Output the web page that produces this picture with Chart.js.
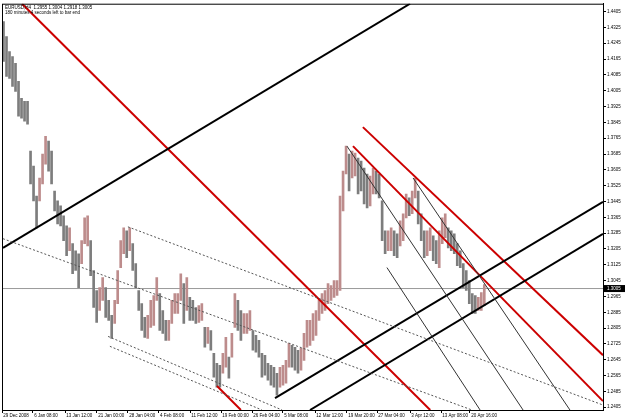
<!DOCTYPE html>
<html lang="en">
<head>
  <meta charset="UTF-8">
  <title>EURUSD H4</title>
  <script src="https://cdn.jsdelivr.net/npm/chart.js"></script>
  <style>
    html, body { margin: 0; padding: 0; background: #fff; }
    canvas { display: block; }
  </style>
</head>
<body>
  <canvas id="chart" width="625" height="420"></canvas>

  <script>
    // H4 bars, one sample every ~3 bars (x = sample index)
    const highs = [
      1.4354, 1.4279, 1.4203, 1.4178, 1.4143, 1.4052, 1.3967, 1.3952, 1.3952, 1.3700,
      1.3624, 1.3473, 1.3564, 1.3685, 1.3775, 1.3750, 1.3700, 1.3498, 1.3448, 1.3423,
      1.3373, 1.3322, 1.3312, 1.3232, 1.3196, 1.3181, 1.3247, 1.3362, 1.3373, 1.3247,
      1.3096, 1.2995, 1.3010, 1.3060, 1.3010, 1.2945, 1.2869, 1.2945, 1.3096, 1.3247,
      1.3312, 1.3297, 1.3312, 1.3232, 1.3131, 1.2995, 1.2929, 1.2859, 1.2869, 1.2945,
      1.2970, 1.3060, 1.2980, 1.2894, 1.2844, 1.2844, 1.2945, 1.2980, 1.2980, 1.3080,
      1.3030, 1.3060, 1.2960, 1.2945, 1.2909, 1.2919, 1.2929, 1.2809, 1.2809, 1.2793,
      1.2678, 1.2627, 1.2617, 1.2678, 1.2758, 1.2658, 1.2778, 1.2980, 1.2945, 1.2894,
      1.2879, 1.2879, 1.2894, 1.2793, 1.2768, 1.2743, 1.2678, 1.2668, 1.2627, 1.2617,
      1.2607, 1.2577, 1.2607, 1.2617, 1.2642, 1.2728, 1.2718, 1.2708, 1.2693, 1.2703,
      1.2778, 1.2844, 1.2844, 1.2879, 1.2894, 1.2945, 1.2980, 1.2995, 1.3030, 1.3020,
      1.3045, 1.3045, 1.3473, 1.3599, 1.3725, 1.3685, 1.3700, 1.3690, 1.3665, 1.3649,
      1.3614, 1.3584, 1.3574, 1.3614, 1.3599, 1.3584, 1.3448, 1.3297, 1.3297, 1.3312,
      1.3297, 1.3282, 1.3347, 1.3383, 1.3483, 1.3463, 1.3498, 1.3564, 1.3498, 1.3383,
      1.3297, 1.3297, 1.3312, 1.3272, 1.3247, 1.3297, 1.3362, 1.3383, 1.3312, 1.3297,
      1.3282, 1.3232, 1.3196, 1.3131, 1.3096, 1.3045, 1.2980, 1.2970, 1.2960, 1.2985,
      1.3025
    ];
    const lows = [
      1.4153, 1.4077, 1.4067, 1.4027, 1.4002, 1.3876, 1.3866, 1.3851, 1.3836, 1.3534,
      1.3448, 1.3312, 1.3448, 1.3534, 1.3634, 1.3599, 1.3534, 1.3398, 1.3332, 1.3322,
      1.3247, 1.3171, 1.3196, 1.3080, 1.3096, 1.3010, 1.3131, 1.3232, 1.3221, 1.3070,
      1.2909, 1.2834, 1.2894, 1.2945, 1.2859, 1.2844, 1.2753, 1.2829, 1.2929, 1.3111,
      1.3181, 1.3161, 1.3196, 1.3096, 1.3010, 1.2894, 1.2793, 1.2758, 1.2753, 1.2809,
      1.2819, 1.2945, 1.2793, 1.2778, 1.2743, 1.2743, 1.2829, 1.2879, 1.2879, 1.2945,
      1.2829, 1.2894, 1.2844, 1.2844, 1.2829, 1.2834, 1.2844, 1.2708, 1.2728, 1.2693,
      1.2557, 1.2507, 1.2507, 1.2577, 1.2607, 1.2552, 1.2658, 1.2809, 1.2793, 1.2743,
      1.2778, 1.2778, 1.2793, 1.2693, 1.2683, 1.2658, 1.2557, 1.2567, 1.2542, 1.2517,
      1.2507, 1.2466, 1.2507, 1.2517, 1.2527, 1.2607, 1.2607, 1.2592, 1.2577, 1.2592,
      1.2642, 1.2708, 1.2718, 1.2743, 1.2768, 1.2844, 1.2879, 1.2894, 1.2929, 1.2945,
      1.2960, 1.2970, 1.2995, 1.3398, 1.3584, 1.3498, 1.3564, 1.3574, 1.3483, 1.3498,
      1.3433, 1.3413, 1.3423, 1.3483, 1.3483, 1.3463, 1.3247, 1.3181, 1.3196, 1.3196,
      1.3171, 1.3161, 1.3221, 1.3247, 1.3362, 1.3373, 1.3383, 1.3463, 1.3332, 1.3247,
      1.3161, 1.3171, 1.3196, 1.3146, 1.3131, 1.3111, 1.3232, 1.3262, 1.3211, 1.3196,
      1.3181, 1.3121, 1.3111, 1.3010, 1.2995, 1.2929, 1.2879, 1.2879, 1.2894, 1.2894,
      1.2919
    ];

    // time axis labels and where they sit (sample units)
    const dateLabels = ['29 Dec 2008', '6 Jan 08:00', '13 Jan 12:00', '21 Jan 00:00', '28 Jan 04:00',
      '4 Feb 08:00', '11 Feb 12:00', '19 Feb 00:00', '26 Feb 04:00', '5 Mar 08:00', '12 Mar 12:00',
      '19 Mar 20:00', '27 Mar 04:00', '3 Apr 12:00', '13 Apr 08:00', '20 Apr 16:00'];
    const dateTicks = [-0.5, 9.8, 20.5, 31.1, 41.4, 51.7, 62.1, 72.4, 82.7, 93.0, 103.7,
      114.3, 124.3, 135.3, 145.6, 155.2];

    // price axis labels
    const priceTicks = [];
    for (let p = 1.4405; p > 1.2400; p -= 0.008) priceTicks.push(+p.toFixed(4));

    const bid = 1.3005;
    const header1 = 'EURUSD,H4  1.2955 1.3004 1.2918 1.3005';
    const header2 = '180 minutes 4 seconds left to bar end';

    // trend objects: [x1, price1, x2, price2]
    const blackLines = [
      [-0.17, 1.3211, 135.3, 1.4445],
      [90.35, 1.2451, 199.5, 1.3443],
      [102.0, 1.2391, 199.5, 1.3282]
    ];
    const redLines = [
      [6.16, 1.4445, 142.0, 1.2391],
      [71.05, 1.2512, 79.0, 1.2391],
      [119.6, 1.3821, 199.5, 1.2668],
      [116.3, 1.3725, 199.5, 1.2436]
    ];
    const pitchfork = [
      [114.3, 1.3725, 172.9, 1.2391],
      [127.6, 1.3111, 158.6, 1.2391],
      [136.3, 1.3564, 188.5, 1.2391]
    ];
    const dottedLines = [
      [-0.17, 1.3257, 155.9, 1.2391],
      [41.4, 1.3317, 199.5, 1.2416],
      [34.8, 1.2763, 92.7, 1.2391],
      [35.4, 1.2713, 86.0, 1.2391]
    ];

    function seg(l, color, width, dash) {
      return {
        type: 'line',
        data: [{ x: l[0], y: l[1] }, { x: l[2], y: l[3] }],
        borderColor: color,
        borderWidth: width,
        borderDash: dash || [],
        pointRadius: 0,
        fill: false,
        order: 0
      };
    }

    const candleColors = highs.map((h, i) => {
      if (i === 0) return '#7d7d7d';
      const mid = (h + lows[i]) / 2, prev = (highs[i - 1] + lows[i - 1]) / 2;
      return mid >= prev ? '#bd8c8c' : '#7d7d7d';
    });

    const datasets = [
      {
        type: 'bar',
        data: highs.map((h, i) => ({ x: i, y: [lows[i], h] })),
        backgroundColor: candleColors,
        barThickness: 2,
        order: 1
      },
      {
        type: 'line',
        data: [{ x: -0.5, y: bid }, { x: 199.5, y: bid }],
        borderColor: '#999999',
        borderWidth: 1,
        pointRadius: 0,
        order: 2
      }
    ];
    dottedLines.forEach(l => datasets.push(seg(l, '#555555', 1, [2, 2])));
    pitchfork.forEach(l => datasets.push(seg(l, '#333333', 1)));
    blackLines.forEach(l => datasets.push(seg(l, '#000000', 2)));
    redLines.forEach(l => datasets.push(seg(l, '#cc0000', 2)));

    const frame = {
      id: 'frame',
      afterDraw(chart) {
        const { ctx, chartArea: a, scales } = chart;
        ctx.save();
        ctx.strokeStyle = '#000';
        ctx.lineWidth = 1;
        ctx.strokeRect(a.left + 0.5, a.top + 0.5, a.right - a.left, a.bottom - a.top);
        // header
        ctx.fillStyle = '#000';
        ctx.font = '4.5px "Liberation Sans", Arial, sans-serif';
        ctx.textBaseline = 'top';
        ctx.fillText(header1, a.left + 3, a.top + 2);
        ctx.fillText(header2, a.left + 3, a.top + 7);
        // bid label
        const y = scales.y.getPixelForValue(bid);
        ctx.fillStyle = '#000';
        ctx.fillRect(a.right + 1, y - 3.5, 21, 7);
        ctx.fillStyle = '#fff';
        ctx.textBaseline = 'middle';
        ctx.fillText(bid.toFixed(4), a.right + 4, y);
        ctx.restore();
      }
    };

    new Chart(document.getElementById('chart'), {
      data: { datasets: datasets },
      options: {
        responsive: false,
        animation: false,
        devicePixelRatio: 1,
        layout: { padding: { left: 2, top: 2, right: 0, bottom: 0 } },
        plugins: { legend: { display: false }, tooltip: { enabled: false } },
        scales: {
          x: {
            type: 'linear',
            offset: false,
            min: -0.5,
            max: 199.5,
            afterBuildTicks: s => { s.ticks = dateTicks.map(v => ({ value: v })); },
            afterFit: s => { s.height = 10; },
            grid: { drawOnChartArea: false, tickLength: 3, color: '#000', offset: false },
            border: { display: true, color: '#000' },
            ticks: {
              autoSkip: false,
              maxRotation: 0,
              minRotation: 0,
              align: 'start',
              padding: 0,
              color: '#000',
              font: { family: '"Liberation Sans", Arial, sans-serif', size: 4.5 },
              callback: (v, i) => ' ' + dateLabels[i]
            }
          },
          y: {
            type: 'linear',
            position: 'right',
            min: 1.2391,
            max: 1.4445,
            afterBuildTicks: s => { s.ticks = priceTicks.map(v => ({ value: v })); },
            afterFit: s => { s.width = 22; },
            grid: { drawOnChartArea: false, tickLength: 3, color: '#000' },
            border: { display: true, color: '#000' },
            ticks: {
              autoSkip: false,
              padding: 1,
              color: '#000',
              font: { family: '"Liberation Sans", Arial, sans-serif', size: 4.5 },
              callback: v => v.toFixed(4)
            }
          }
        }
      },
      plugins: [frame]
    });
  </script>
</body>
</html>
